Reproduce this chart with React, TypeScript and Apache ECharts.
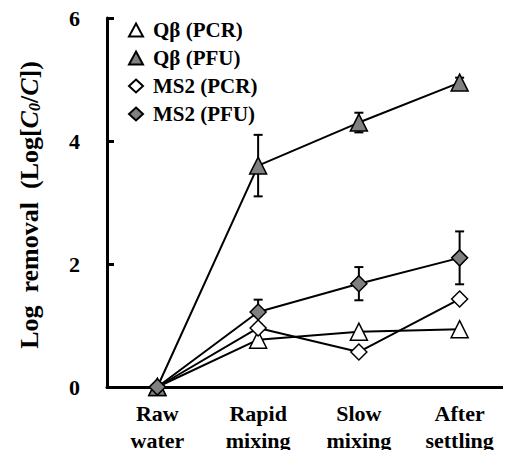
import React, { useEffect, useRef } from "react";
import * as echarts from "echarts";

const categories = ["Raw\nwater", "Rapid\nmixing", "Slow\nmixing", "After\nsettling"];
const qbPCR = [0, 0.77, 0.9, 0.94];
const qbPFU = [0, 3.6, 4.3, 4.95];
const qbPFUErr = [0, 0.5, 0.16, 0.08];
const ms2PCR = [0, 0.96, 0.57, 1.43];
const ms2PFU = [0, 1.22, 1.68, 2.1];
const ms2PFUErr = [0, 0.2, 0.27, 0.43];
const yTicks = [0, 2, 4, 6];
const legendNames = ["Qβ (PCR)", "Qβ (PFU)", "MS2 (PCR)", "MS2 (PFU)"];
const legendIcons = ["triangle", "triangle", "diamond", "diamond"];

const FONT = "'Liberation Serif', 'Times New Roman', serif";

function errorSeries(vals: number[], errs: number[]) {
  const data = vals.map((v, i) => [i, v - errs[i], v + errs[i]]).filter((_, i) => errs[i] > 0);
  return {
    type: "custom",
    z: 1,
    silent: true,
    data,
    renderItem: (params: any, api: any) => {
      const x = api.value(0);
      const lo = api.coord([x, api.value(1)]);
      const hi = api.coord([x, api.value(2)]);
      const w = 4.5;
      const style = { stroke: "#000", lineWidth: 2 };
      return {
        type: "group",
        children: [
          { type: "line", shape: { x1: lo[0], y1: lo[1], x2: hi[0], y2: hi[1] }, style },
          { type: "line", shape: { x1: lo[0] - w, y1: lo[1], x2: lo[0] + w, y2: lo[1] }, style },
          { type: "line", shape: { x1: hi[0] - w, y1: hi[1], x2: hi[0] + w, y2: hi[1] }, style },
        ],
      };
    },
  };
}

function lineSeries(name: string, data: number[], symbol: string, fill: string, size: number, z: number) {
  return {
    name,
    type: "line",
    data,
    symbol,
    symbolSize: size,
    showSymbol: true,
    z,
    lineStyle: { color: "#000", width: 2 },
    itemStyle: { color: fill, borderColor: "#000", borderWidth: 1.5 },
  };
}

export default function App() {
  const ref = useRef<HTMLDivElement>(null);
  useEffect(() => {
    const chart = echarts.init(ref.current!, null, { renderer: "svg" });
    chart.setOption({
      animation: false,
      backgroundColor: "#fff",
      grid: { left: 107, right: 1, top: 18, bottom: 71 },
      legend: {
        orient: "vertical",
        left: 123,
        top: 14,
        itemGap: 6,
        itemWidth: 14,
        itemHeight: 13,
        textStyle: {
          fontFamily: FONT,
          fontWeight: "bold",
          fontSize: 21,
          lineHeight: 22,
          color: "#000",
          padding: [0, 0, 0, 5],
        },
        data: legendNames.map((n, i) => ({ name: n, icon: legendIcons[i] })),
      },
      xAxis: {
        type: "category",
        data: categories,
        boundaryGap: true,
        axisLine: { lineStyle: { color: "#000", width: 3 } },
        axisTick: { inside: true, length: 7, lineStyle: { width: 3, color: "#000" } },
        axisLabel: {
          fontFamily: FONT,
          fontWeight: "bold",
          fontSize: 22,
          color: "#000",
          lineHeight: 27,
          margin: 13,
        },
      },
      yAxis: {
        type: "value",
        min: 0,
        max: 6,
        interval: 2,
        splitLine: { show: false },
        axisLine: { show: true, lineStyle: { color: "#000", width: 3 } },
        axisTick: { show: true, inside: true, length: 7, lineStyle: { width: 3, color: "#000" } },
        axisLabel: {
          fontFamily: FONT,
          fontWeight: "bold",
          fontSize: 22,
          color: "#000",
          margin: 27,
          formatter: (v: number) => (yTicks.includes(v) ? String(v) : ""),
        },
      },
      graphic: [
        {
          type: "text",
          x: 29,
          y: 205,
          rotation: Math.PI / 2,
          style: {
            text: "{n|Log  removal  (Log[}{i|C}{s|0}{n|/}{i|C}{n|])}",
            align: "center",
            verticalAlign: "middle",
            rich: {
              n: { fontFamily: FONT, fontWeight: "bold", fontSize: 26, fill: "#000" },
              i: { fontFamily: FONT, fontWeight: "bold", fontStyle: "italic", fontSize: 26, fill: "#000" },
              s: { fontFamily: FONT, fontWeight: "bold", fontStyle: "italic", fontSize: 16, fill: "#000", padding: [11, 0, 0, 0] },
            },
          },
        },
      ],
      series: [
        errorSeries(qbPFU, qbPFUErr),
        errorSeries(ms2PFU, ms2PFUErr),
        lineSeries("Qβ (PCR)", qbPCR, "triangle", "#fff", 17, 3),
        lineSeries("Qβ (PFU)", qbPFU, "triangle", "#808080", 17, 4),
        lineSeries("MS2 (PCR)", ms2PCR, "diamond", "#fff", 16, 5),
        lineSeries("MS2 (PFU)", ms2PFU, "diamond", "#808080", 16, 6),
      ],
    });
    return () => chart.dispose();
  }, []);
  return <div ref={ref} style={{ width: 511, height: 458, margin: -8 }} />;
}
